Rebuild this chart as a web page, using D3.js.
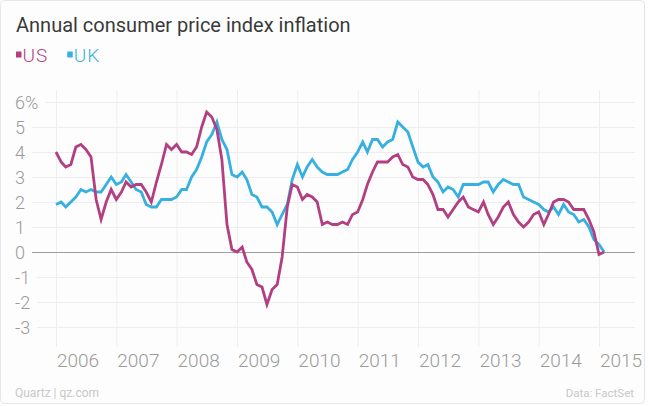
<!DOCTYPE html>
<html>
<head>
<meta charset="utf-8">
<script src="https://cdn.jsdelivr.net/npm/d3@7"></script>
<style>
  html, body { margin: 0; padding: 0; background: #ffffff; }
  svg { display: block; }
  text { font-family: Roboto, "Noto Sans", sans-serif; }
</style>
</head>
<body>
<svg id="chart" width="648" height="406"></svg>
<script>
// ---- Data ----
const title = "Annual consumer price index inflation";
const seriesNames = ["US", "UK"];
const startYear = 2006; // monthly data from Jan 2006 to Feb 2015
const usValues = [
  4.0, 3.6, 3.4, 3.5, 4.2, 4.3, 4.1, 3.8, 2.1, 1.3, 2.0, 2.5,
  2.1, 2.4, 2.8, 2.6, 2.7, 2.7, 2.4, 2.0, 2.8, 3.5, 4.3, 4.1,
  4.3, 4.0, 4.0, 3.9, 4.2, 5.0, 5.6, 5.4, 4.9, 3.7, 1.1, 0.1,
  0.0, 0.2, -0.4, -0.7, -1.3, -1.4, -2.1, -1.5, -1.3, -0.2, 1.8, 2.7,
  2.6, 2.1, 2.3, 2.2, 2.0, 1.1, 1.2, 1.1, 1.1, 1.2, 1.1, 1.5,
  1.6, 2.1, 2.7, 3.2, 3.6, 3.6, 3.6, 3.8, 3.9, 3.5, 3.4, 3.0,
  2.9, 2.9, 2.7, 2.3, 1.7, 1.7, 1.4, 1.7, 2.0, 2.2, 1.8, 1.7,
  1.6, 2.0, 1.5, 1.1, 1.4, 1.8, 2.0, 1.5, 1.2, 1.0, 1.2, 1.5,
  1.6, 1.1, 1.5, 2.0, 2.1, 2.1, 2.0, 1.7, 1.7, 1.7, 1.3, 0.8,
  -0.1, 0.0
];
const ukValues = [
  1.9, 2.0, 1.8, 2.0, 2.2, 2.5, 2.4, 2.5, 2.4, 2.4, 2.7, 3.0,
  2.7, 2.8, 3.1, 2.8, 2.5, 2.4, 1.9, 1.8, 1.8, 2.1, 2.1, 2.1,
  2.2, 2.5, 2.5, 3.0, 3.3, 3.8, 4.4, 4.7, 5.2, 4.5, 4.1, 3.1,
  3.0, 3.2, 2.9, 2.3, 2.2, 1.8, 1.8, 1.6, 1.1, 1.5, 1.9, 2.9,
  3.5, 3.0, 3.4, 3.7, 3.4, 3.2, 3.1, 3.1, 3.1, 3.2, 3.3, 3.7,
  4.0, 4.4, 4.0, 4.5, 4.5, 4.2, 4.4, 4.5, 5.2, 5.0, 4.8, 4.2,
  3.6, 3.4, 3.5, 3.0, 2.8, 2.4, 2.6, 2.5, 2.2, 2.7, 2.7, 2.7,
  2.7, 2.8, 2.8, 2.4, 2.7, 2.9, 2.8, 2.7, 2.7, 2.2, 2.1, 2.0,
  1.9, 1.7, 1.6, 1.8, 1.5, 1.9, 1.6, 1.5, 1.2, 1.3, 1.0, 0.5,
  0.3, 0.0
];
const yTicks = [6, 5, 4, 3, 2, 1, 0, -1, -2, -3];
const xTickYears = [2006, 2007, 2008, 2009, 2010, 2011, 2012, 2013, 2014, 2015];
const colors = ["#b23f82", "#36b0e0"];
const sourceLeft = "Quartz | qz.com";
const sourceRight = "Data: FactSet";

// ---- Layout ----
const W = 648, H = 406;
const svg = d3.select("#chart");

svg.append("rect")
  .attr("x", 0.5).attr("y", 0.5)
  .attr("width", W - 4).attr("height", H - 3)
  .attr("rx", 4)
  .attr("fill", "#fdfdfd")
  .attr("stroke", "#e6e6e6");

const x = d3.scaleTime()
  .domain([new Date(2006, 0, 1), new Date(2015, 0, 1)])
  .range([56, 599]);
const y = d3.scaleLinear().domain([-3, 6]).range([327, 102]);

const dateOf = i => new Date(startYear, i, 1);

// vertical gridlines
svg.append("g").selectAll("line")
  .data(xTickYears)
  .join("line")
  .attr("x1", d => x(new Date(d, 0, 1)) + 0.5)
  .attr("x2", d => x(new Date(d, 0, 1)) + 0.5)
  .attr("y1", 90).attr("y2", 347)
  .attr("stroke", "#eeeeee").attr("stroke-width", 1);

// y labels + horizontal gridlines
const yg = svg.append("g");
yTicks.forEach(t => {
  const label = yg.append("text")
    .attr("x", 15)
    .attr("y", y(t) + 6.5)
    .attr("font-size", 18)
    .attr("font-weight", 300)
    .attr("fill", "#9a9a9a")
    .text(t === 6 ? "6%" : String(t));
  const w = label.node().getComputedTextLength();
  yg.append("line")
    .attr("x1", 15 + w + 7)
    .attr("x2", 635)
    .attr("y1", Math.round(y(t)) + 0.5)
    .attr("y2", Math.round(y(t)) + 0.5)
    .attr("stroke", t === 0 ? "#9e9e9e" : "#ededed")
    .attr("stroke-width", 1);
});

// x labels
svg.append("g").selectAll("text")
  .data(xTickYears)
  .join("text")
  .attr("x", d => x(new Date(d, 0, 1)) + 1)
  .attr("y", 367)
  .attr("font-size", 19)
  .attr("font-weight", 300)
  .attr("fill", "#9a9a9a")
  .text(d => d);

// lines
const line = d3.line()
  .x((d, i) => x(dateOf(i)))
  .y(d => y(d));

[ukValues, usValues].forEach((vals, k) => {
  const color = k === 0 ? colors[1] : colors[0];
  svg.append("path")
    .datum(vals)
    .attr("d", line)
    .attr("fill", "none")
    .attr("stroke", color)
    .attr("stroke-width", 2.8)
    .attr("stroke-linejoin", "miter")
    .attr("stroke-linecap", "butt");
});

// title
svg.append("text")
  .attr("x", 16).attr("y", 32)
  .attr("font-size", 20)
  .attr("font-weight", 400)
  .attr("fill", "#3a3a3a")
  .text(title);

// legend
const lg = svg.append("g");
let lx = 16;
seriesNames.forEach((name, i) => {
  lg.append("rect")
    .attr("x", lx).attr("y", 51.5)
    .attr("width", 5.5).attr("height", 6)
    .attr("fill", colors[i]);
  const t = lg.append("text")
    .attr("x", lx + 6.5).attr("y", 61.5)
    .attr("font-size", 19)
    .attr("font-weight", 300)
    .attr("letter-spacing", 1)
    .attr("fill", colors[i])
    .text(name);
  lx += 6.5 + t.node().getComputedTextLength() + 19;
});

// footer
svg.append("text")
  .attr("x", 15).attr("y", 397)
  .attr("font-size", 12)
  .attr("fill", "#c8c8c8")
  .text(sourceLeft);
svg.append("text")
  .attr("x", 634).attr("y", 397)
  .attr("text-anchor", "end")
  .attr("font-size", 11.5)
  .attr("fill", "#c8c8c8")
  .text(sourceRight);
</script>
</body>
</html>
